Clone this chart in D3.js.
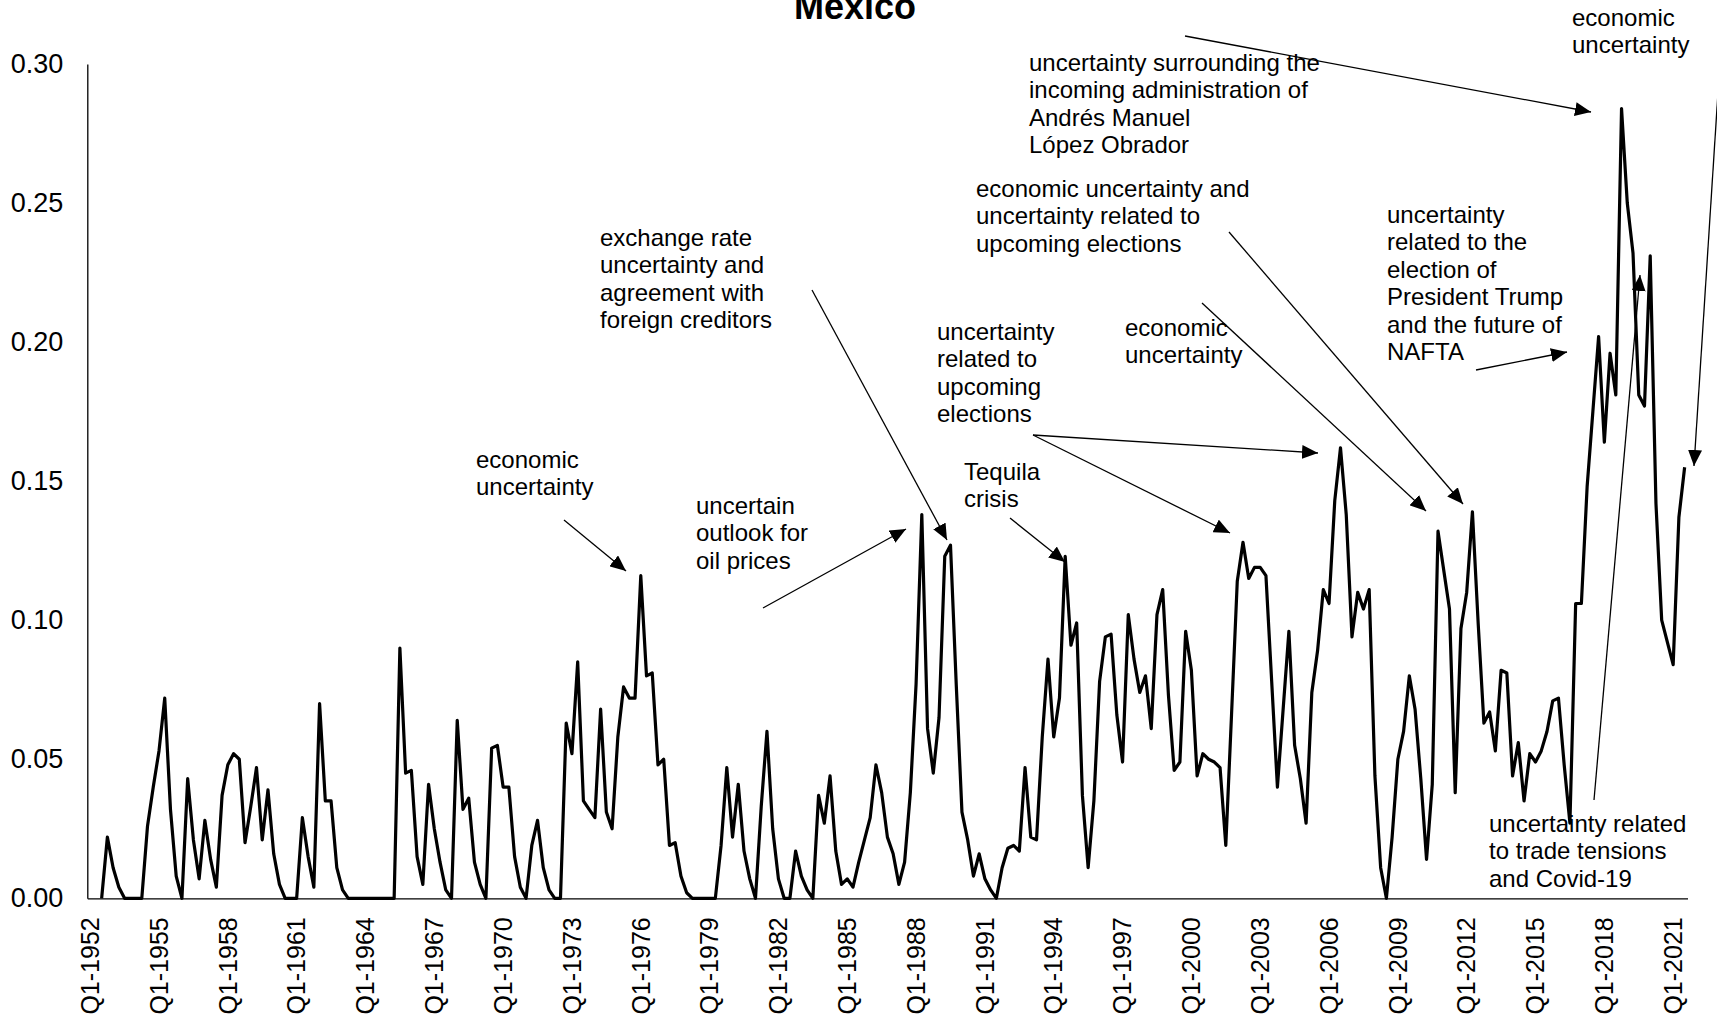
<!DOCTYPE html>
<html>
<head>
<meta charset="utf-8">
<script src="https://cdn.jsdelivr.net/npm/d3@7"></script>
<style>
  body { margin: 0; background: #fff; }
  svg { display: block; font-family: "Liberation Sans", Arial, sans-serif; }
</style>
</head>
<body>
<svg id="chart" width="1717" height="1026"></svg>
<script>
// quarterly categories Q1-1952 .. Q3-2021
const allQuarters = [];
for (let yr = 1952; yr <= 2021; yr++) {
  for (let q = 1; q <= 4; q++) allQuarters.push(`Q${q}-${yr}`);
}
const quarters = allQuarters.slice(0, 279);

const tickLabels = ["Q1-1952", "Q1-1955", "Q1-1958", "Q1-1961", "Q1-1964", "Q1-1967",
  "Q1-1970", "Q1-1973", "Q1-1976", "Q1-1979", "Q1-1982", "Q1-1985", "Q1-1988",
  "Q1-1991", "Q1-1994", "Q1-1997", "Q1-2000", "Q1-2003", "Q1-2006", "Q1-2009",
  "Q1-2012", "Q1-2015", "Q1-2018", "Q1-2021"];

const yTicks = [0, 0.05, 0.10, 0.15, 0.20, 0.25, 0.30];

// uncertainty index, one value per quarter (first two quarters empty)
const wui = [
  null, null, 0, 0.022, 0.011, 0.004, 0, 0, 0, 0,
  0.026, 0.040, 0.053, 0.072, 0.032, 0.008, 0, 0.043, 0.021, 0.007,
  0.028, 0.014, 0.004, 0.037, 0.048, 0.052, 0.050, 0.020, 0.033, 0.047,
  0.021, 0.039, 0.016, 0.005, 0, 0, 0, 0.029, 0.015, 0.004,
  0.070, 0.035, 0.035, 0.011, 0.003, 0, 0, 0, 0, 0,
  0, 0, 0, 0, 0.090, 0.045, 0.046, 0.015, 0.005, 0.041,
  0.025, 0.013, 0.003, 0, 0.064, 0.032, 0.036, 0.013, 0.005, 0,
  0.054, 0.055, 0.040, 0.040, 0.015, 0.004, 0, 0.019, 0.028, 0.011,
  0.003, 0, 0, 0.063, 0.052, 0.085, 0.035, 0.032, 0.029, 0.068,
  0.031, 0.025, 0.058, 0.076, 0.072, 0.072, 0.116, 0.080, 0.081, 0.048,
  0.050, 0.019, 0.020, 0.008, 0.002, 0, 0, 0, 0, 0,
  0.019, 0.047, 0.022, 0.041, 0.017, 0.007, 0, 0.033, 0.060, 0.025,
  0.007, 0, 0, 0.017, 0.008, 0.003, 0, 0.037, 0.027, 0.044,
  0.017, 0.005, 0.007, 0.004, 0.013, 0.021, 0.029, 0.048, 0.038, 0.022,
  0.016, 0.005, 0.013, 0.038, 0.077, 0.138, 0.061, 0.045, 0.065, 0.123,
  0.127, 0.077, 0.031, 0.021, 0.008, 0.016, 0.007, 0.003, 0, 0.011,
  0.018, 0.019, 0.017, 0.047, 0.022, 0.021, 0.058, 0.086, 0.058, 0.072,
  0.123, 0.091, 0.099, 0.037, 0.011, 0.035, 0.078, 0.094, 0.095, 0.066,
  0.049, 0.102, 0.086, 0.074, 0.080, 0.061, 0.102, 0.111, 0.073, 0.046,
  0.049, 0.096, 0.082, 0.044, 0.052, 0.050, 0.049, 0.047, 0.019, 0.066,
  0.114, 0.128, 0.115, 0.119, 0.119, 0.116, 0.078, 0.040, 0.068, 0.096,
  0.055, 0.043, 0.027, 0.074, 0.089, 0.111, 0.106, 0.143, 0.162, 0.138,
  0.094, 0.110, 0.104, 0.111, 0.044, 0.011, 0, 0.022, 0.050, 0.060,
  0.080, 0.068, 0.043, 0.014, 0.041, 0.132, 0.118, 0.104, 0.038, 0.097,
  0.110, 0.139, 0.099, 0.063, 0.067, 0.053, 0.082, 0.081, 0.044, 0.056,
  0.035, 0.052, 0.049, 0.053, 0.060, 0.071, 0.072, 0.048, 0.027, 0.106,
  0.106, 0.148, 0.175, 0.202, 0.164, 0.196, 0.181, 0.284, 0.250, 0.232,
  0.181, 0.177, 0.231, 0.142, 0.100, 0.092, 0.084, 0.137, 0.155
];

// annotation texts with their label position and arrow(s)
const notes = [
  { lines: ["economic", "uncertainty"], x: 476, y: 468, arrows: [[564, 520, 626, 571]] },
  { lines: ["uncertain", "outlook for", "oil prices"], x: 696, y: 514, arrows: [[763, 608, 906, 529]] },
  { lines: ["exchange rate", "uncertainty and", "agreement with", "foreign creditors"], x: 600, y: 246, arrows: [[812, 290, 947, 540]] },
  { lines: ["Tequila", "crisis"], x: 964, y: 480, arrows: [[1010, 518, 1065, 562]] },
  { lines: ["uncertainty", "related to", "upcoming", "elections"], x: 937, y: 340,
    arrows: [[1033, 435, 1318, 453], [1033, 435, 1230, 533]] },
  { lines: ["economic", "uncertainty"], x: 1125, y: 336, arrows: [[1202, 303, 1426, 511]] },
  { lines: ["economic uncertainty and", "uncertainty related to", "upcoming elections"], x: 976, y: 197,
    arrows: [[1229, 232, 1463, 504]] },
  { lines: ["uncertainty", "related to the", "election of", "President Trump", "and the future of", "NAFTA"],
    x: 1387, y: 223, arrows: [[1476, 370, 1567, 352]] },
  { lines: ["uncertainty surrounding the", "incoming administration of", "Andrés Manuel", "López Obrador"],
    x: 1029, y: 71, arrows: [[1185, 36, 1591, 112]] },
  { lines: ["economic", "uncertainty"], x: 1572, y: 26, arrows: [[1722, 30, 1694, 466]] },
  { lines: ["uncertainty related", "to trade tensions", "and Covid-19"], x: 1489, y: 832,
    arrows: [[1594, 800, 1640, 275]] }
];

const svg = d3.select("#chart");
const plotLeft = 87.3, plotRight = 1687.5, plotTop = 64, plotBottom = 898.3;

const x = d3.scaleBand().domain(quarters).range([plotLeft, plotRight]).padding(0);
const y = d3.scaleLinear().domain([0, 0.30]).range([plotBottom, plotTop]);

// title (partly cut by the top edge, as in the original)
svg.append("text")
  .attr("x", 855).attr("y", 19)
  .attr("text-anchor", "middle")
  .attr("font-size", 36).attr("font-weight", "bold")
  .text("Mexico");

// y axis
const yAxis = svg.append("g")
  .attr("transform", `translate(${plotLeft},0)`)
  .call(d3.axisLeft(y).tickValues(yTicks).tickFormat(d3.format(".2f")).tickSize(0).tickPadding(24));
yAxis.select(".domain").attr("stroke", "#000").attr("stroke-width", 1.3);
yAxis.selectAll("text").attr("font-size", 27).attr("fill", "#000")
  .attr("font-family", "Liberation Sans, Arial, sans-serif");

// x axis
const xAxis = svg.append("g")
  .attr("transform", `translate(0,${plotBottom})`)
  .call(d3.axisBottom(x).tickValues(tickLabels).tickSize(0));
xAxis.select(".domain").attr("stroke", "#000").attr("stroke-width", 1.3);
xAxis.selectAll("text")
  .attr("font-size", 25).attr("fill", "#000")
  .attr("font-family", "Liberation Sans, Arial, sans-serif")
  .attr("text-anchor", "end")
  .attr("transform", "rotate(-90)")
  .attr("x", -19).attr("y", 0).attr("dy", "0.35em");

// series
const line = d3.line()
  .defined(d => d.v != null)
  .x(d => x(d.q) + x.bandwidth() / 2)
  .y(d => y(d.v));

svg.append("path")
  .datum(quarters.map((q, i) => ({ q, v: wui[i] })))
  .attr("fill", "none")
  .attr("stroke", "#000")
  .attr("stroke-width", 3.2)
  .attr("stroke-linejoin", "round")
  .attr("d", line);

// arrowhead
svg.append("defs").append("marker")
  .attr("id", "head")
  .attr("viewBox", "0 0 16 14")
  .attr("refX", 16).attr("refY", 7)
  .attr("markerWidth", 16).attr("markerHeight", 14)
  .attr("markerUnits", "userSpaceOnUse")
  .attr("orient", "auto")
  .append("path").attr("d", "M0,0 L16,7 L0,14 Z").attr("fill", "#000");

// annotations
const noteG = svg.append("g").attr("font-size", 24).attr("fill", "#000");
notes.forEach(n => {
  const t = noteG.append("text").attr("x", n.x).attr("y", n.y);
  n.lines.forEach((s, i) => {
    t.append("tspan").attr("x", n.x).attr("dy", i === 0 ? 0 : 27.4).text(s);
  });
  n.arrows.forEach(a => {
    noteG.append("line")
      .attr("x1", a[0]).attr("y1", a[1]).attr("x2", a[2]).attr("y2", a[3])
      .attr("stroke", "#000").attr("stroke-width", 1.3)
      .attr("marker-end", "url(#head)");
  });
});
</script>
</body>
</html>
